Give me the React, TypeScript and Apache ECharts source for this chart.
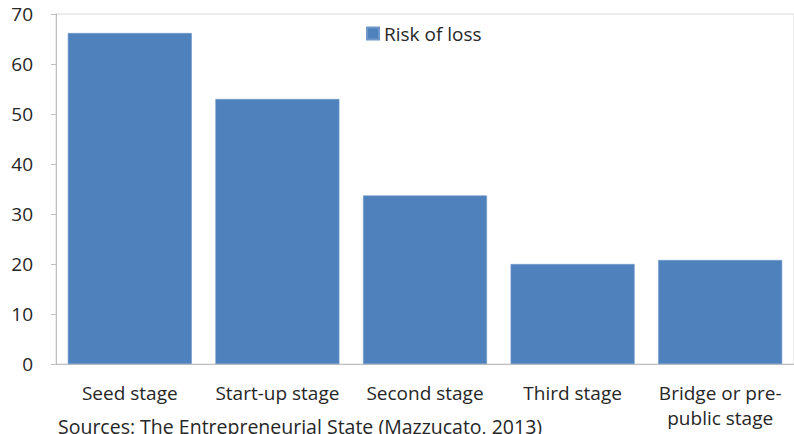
import React, { useEffect, useRef } from "react";
import * as echarts from "echarts";

const stages = [
  "Seed stage",
  "Start-up stage",
  "Second stage",
  "Third stage",
  "Bridge or pre-\npublic stage",
];
const riskOfLoss = [66.2, 53, 33.7, 20, 20.8];
const seriesName = "Risk of loss";
const yTicks = { min: 0, max: 70, interval: 10 };
const sourceNote = "Sources: The Entrepreneurial State (Mazzucato, 2013)";

const FONT = "'Open Sans', 'Noto Sans', sans-serif";
const TEXT = "#262626";
const SIZE = 19;

export default function App() {
  const ref = useRef<HTMLDivElement>(null);

  useEffect(() => {
    if (!ref.current) return;
    const chart = echarts.init(ref.current, null, { renderer: "svg" });
    chart.setOption({
      animation: false,
      textStyle: { fontFamily: FONT },
      grid: {
        left: 56,
        top: 14,
        right: -4,
        bottom: 70,
        show: true,
        borderColor: "#d9d9d9",
        borderWidth: 1,
      },
      legend: {
        data: [seriesName],
        left: 366,
        top: 24,
        padding: 0,
        icon: "rect",
        itemWidth: 12,
        itemHeight: 12,
        itemGap: 5,
        textStyle: { fontFamily: FONT, fontSize: SIZE, color: TEXT },
      },
      xAxis: {
        type: "category",
        data: stages,
        axisLine: { lineStyle: { color: "#bfbfbf", width: 1 } },
        axisTick: { inside: true, length: 6, lineStyle: { color: "#bfbfbf" } },
        axisLabel: {
          fontFamily: FONT,
          fontSize: SIZE,
          color: TEXT,
          margin: 16,
          lineHeight: 25,
          interval: 0,
        },
      },
      yAxis: {
        type: "value",
        min: yTicks.min,
        max: yTicks.max,
        interval: yTicks.interval,
        splitLine: { show: false },
        axisLine: { show: true, lineStyle: { color: "#bfbfbf", width: 1 } },
        axisTick: { show: true, length: 5, lineStyle: { color: "#bfbfbf" } },
        axisLabel: {
          fontFamily: FONT,
          fontSize: SIZE,
          color: TEXT,
          margin: 23,
        },
      },
      series: [
        {
          name: seriesName,
          type: "bar",
          data: riskOfLoss,
          barCategoryGap: "16%",
          itemStyle: { color: "#4f81bd", borderColor: "#6f97c9", borderWidth: 0.6 },
        },
      ],
      graphic: [
        {
          type: "text",
          left: 58,
          top: 416,
          style: {
            text: sourceNote,
            fontFamily: FONT,
            fontSize: 19.5,
            fill: TEXT,
          },
        },
      ],
    });
    return () => chart.dispose();
  }, []);

  return (
    <div
      ref={ref}
      style={{ position: "fixed", left: 0, top: 0, width: 794, height: 434, background: "#fff" }}
    />
  );
}
